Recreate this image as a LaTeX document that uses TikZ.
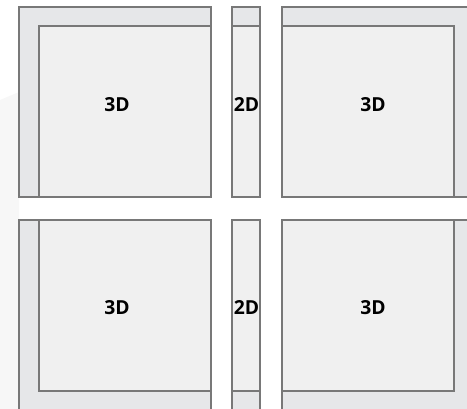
\documentclass[tikz,border=0pt]{standalone}
\usepackage{fontspec}
\setmainfont{Open Sans}
\usepackage{xcolor}
\usetikzlibrary{positioning}

\definecolor{haloFill}{RGB}{230,231,233}
\definecolor{coreFill}{RGB}{240,240,240}
\definecolor{edgeGray}{RGB}{120,120,120}

\begin{document}
\begin{tikzpicture}[
    x=0.75pt, y=-0.75pt,
    halo/.style={fill=haloFill, draw=edgeGray, line width=0.95pt},
    core/.style={fill=coreFill, draw=edgeGray, line width=0.95pt},
    dimlab/.style={font=\fontsize{14.5}{16}\selectfont\bfseries, inner sep=0pt}
]
\useasboundingbox (0,0) rectangle (467,409);
\clip (0,0) rectangle (467,409);

% faint backdrop at the left edge
\fill[black!3] (0,100) -- (19,92) -- (19,409) -- (0,409) -- cycle;

% top row of blocks
\draw[halo] (19,7)  rectangle (211,197);
\draw[core] (39,26) rectangle (211,197);
\draw[halo] (232,7)  rectangle (260,197);
\draw[core] (232,26) rectangle (260,197);
\draw[halo] (282,7)  rectangle (472,197);
\draw[core] (282,26) rectangle (454,197);

% bottom row of blocks
\draw[halo] (19,220)  rectangle (211,414);
\draw[core] (39,220)  rectangle (211,391);
\draw[halo] (232,220) rectangle (260,414);
\draw[core] (232,220) rectangle (260,391);
\draw[halo] (282,220) rectangle (472,414);
\draw[core] (282,220) rectangle (454,391);

% labels
\node[dimlab] (tl) at (117,105) {3D};
\node[dimlab] (tm) at (246.5,105) {2D};
\node[dimlab] (tr) at (373,105) {3D};
\node[dimlab] (bl) at (117,308) {3D};
\node[dimlab] (bm) at (246.5,308) {2D};
\node[dimlab] (br) at (373,308) {3D};
\end{tikzpicture}
\end{document}
